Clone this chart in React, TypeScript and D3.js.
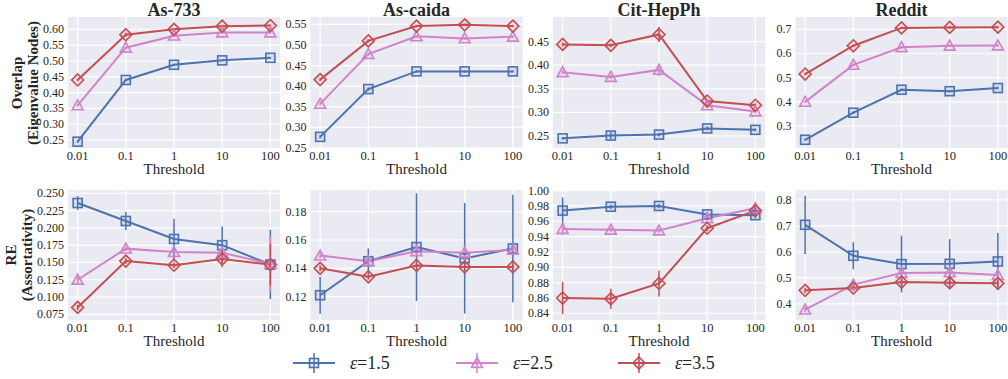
import React from 'react';
import * as d3 from 'd3';

const thresholds = ['0.01', '0.1', '1', '10', '100'];
const datasets = ['As-733', 'As-caida', 'Cit-HepPh', 'Reddit'];
const epsilons = ['1.5', '2.5', '3.5'];

// rows: eps=1.5, eps=2.5, eps=3.5
const overlapAs733 = [
  [0.245, 0.44, 0.488, 0.502, 0.51],
  [0.36, 0.542, 0.58, 0.59, 0.59],
  [0.44, 0.583, 0.6, 0.61, 0.612],
];
const overlapAsCaida = [
  [0.277, 0.393, 0.436, 0.436, 0.436],
  [0.357, 0.478, 0.521, 0.516, 0.52],
  [0.416, 0.51, 0.546, 0.549, 0.546],
];
const overlapCitHepPh = [
  [0.245, 0.251, 0.253, 0.266, 0.263],
  [0.385, 0.375, 0.39, 0.315, 0.302],
  [0.444, 0.442, 0.465, 0.324, 0.315],
];
const overlapReddit = [
  [0.243, 0.355, 0.45, 0.444, 0.457],
  [0.4, 0.553, 0.626, 0.632, 0.633],
  [0.515, 0.632, 0.706, 0.708, 0.709],
];

const overlapErrAs733 = [
  [0.004, 0.004, 0.003, 0.003, 0.003],
  [0.004, 0.004, 0.003, 0.003, 0.003],
  [0.004, 0.006, 0.003, 0.003, 0.003],
];
const overlapErrAsCaida = [
  [0.004, 0.004, 0.003, 0.003, 0.003],
  [0.004, 0.004, 0.003, 0.003, 0.003],
  [0.004, 0.004, 0.003, 0.003, 0.003],
];
const overlapErrCitHepPh = [
  [0.003, 0.008, 0.004, 0.004, 0.003],
  [0.004, 0.004, 0.013, 0.004, 0.004],
  [0.004, 0.004, 0.016, 0.004, 0.004],
];
const overlapErrReddit = [
  [0.005, 0.005, 0.005, 0.005, 0.005],
  [0.005, 0.005, 0.005, 0.005, 0.005],
  [0.005, 0.005, 0.005, 0.005, 0.005],
];

const reAs733 = [
  [0.236, 0.21, 0.184, 0.175, 0.147],
  [0.125, 0.17, 0.165, 0.164, 0.148],
  [0.085, 0.152, 0.146, 0.155, 0.147],
];
const reAsCaida = [
  [0.121, 0.145, 0.155, 0.147, 0.154],
  [0.149, 0.145, 0.152, 0.151, 0.153],
  [0.14, 0.134, 0.142, 0.141, 0.141],
];
const reCitHepPh = [
  [0.974, 0.979, 0.98, 0.969, 0.968],
  [0.95, 0.949, 0.948, 0.964, 0.977],
  [0.86, 0.859, 0.879, 0.951, 0.974],
];
const reReddit = [
  [0.704, 0.585, 0.553, 0.554, 0.563],
  [0.378, 0.474, 0.519, 0.521, 0.511],
  [0.452, 0.461, 0.484, 0.481, 0.479],
];

const reErrAs733 = [
  [0.01, 0.013, 0.029, 0.027, 0.05],
  [0.005, 0.003, 0.003, 0.01, 0.04],
  [0.004, 0.004, 0.004, 0.012, 0.03],
];
const reErrAsCaida = [
  [0.013, 0.009, 0.038, 0.039, 0.038],
  [0.002, 0.002, 0.003, 0.005, 0.003],
  [0.002, 0.002, 0.002, 0.002, 0.002],
];
const reErrCitHepPh = [
  [0.017, 0.003, 0.003, 0.003, 0.004],
  [0.008, 0.003, 0.003, 0.003, 0.006],
  [0.021, 0.013, 0.017, 0.004, 0.005],
];
const reErrReddit = [
  [0.112, 0.052, 0.109, 0.095, 0.11],
  [0.01, 0.01, 0.01, 0.01, 0.01],
  [0.01, 0.01, 0.01, 0.01, 0.01],
];

const overlapTicks = [
  [0.25, 0.3, 0.35, 0.4, 0.45, 0.5, 0.55, 0.6],
  [0.25, 0.3, 0.35, 0.4, 0.45, 0.5, 0.55],
  [0.25, 0.3, 0.35, 0.4, 0.45],
  [0.3, 0.4, 0.5, 0.6, 0.7],
];
const reTicks = [
  [0.075, 0.1, 0.125, 0.15, 0.175, 0.2, 0.225, 0.25],
  [0.12, 0.14, 0.16, 0.18],
  [0.84, 0.86, 0.88, 0.9, 0.92, 0.94, 0.96, 0.98, 1.0],
  [0.4, 0.5, 0.6, 0.7, 0.8],
];
const overlapDomains = [
  [0.225, 0.639],
  [0.25, 0.568],
  [0.2246, 0.502],
  [0.209, 0.751],
];
const reDomains = [
  [0.0668, 0.2548],
  [0.1035, 0.1953],
  [0.8314, 1.0008],
  [0.338, 0.838],
];
const overlapDecimals = [2, 2, 2, 1];
const reDecimals = [3, 2, 2, 1];

const overlapRows = [overlapAs733, overlapAsCaida, overlapCitHepPh, overlapReddit];
const overlapErrRows = [overlapErrAs733, overlapErrAsCaida, overlapErrCitHepPh, overlapErrReddit];
const reRows = [reAs733, reAsCaida, reCitHepPh, reReddit];
const reErrRows = [reErrAs733, reErrAsCaida, reErrCitHepPh, reErrReddit];

const colors = ['#4C72B0', '#D183C9', '#C44E52'];
const markers = ['square', 'triangle', 'diamond'];
const serif = "'Liberation Serif', 'Times New Roman', 'DejaVu Serif', serif";

const W = 1008;
const H = 379;
const panelLefts = [68, 310.5, 553, 795.5];
const panelW = 212;
const rows = [
  { top: 17, bottom: 148 },
  { top: 190, bottom: 320 },
];

function Marker({ kind, x, y, color }: { kind: string; x: number; y: number; color: string }) {
  const common = { fill: color, fillOpacity: 0.12, stroke: color, strokeWidth: 1.6 };
  if (kind === 'square') {
    return <rect x={x - 4.5} y={y - 4.5} width={9} height={9} {...common} />;
  }
  if (kind === 'triangle') {
    const s = 5.5;
    return <path d={`M${x},${y - s}L${x + s},${y + s * 0.8}L${x - s},${y + s * 0.8}Z`} {...common} />;
  }
  const s = 6;
  return <path d={`M${x},${y - s}L${x + s},${y}L${x},${y + s}L${x - s},${y}Z`} {...common} />;
}

function Panel({
  left, top, bottom, domain, ticks, decimals, values, errors, title,
}: {
  left: number; top: number; bottom: number; domain: number[]; ticks: number[]; decimals: number;
  values: number[][]; errors: number[][]; title?: string;
}) {
  const x = d3.scaleLinear().domain([-0.2, 4.2]).range([left, left + panelW]);
  const y = d3.scaleLinear().domain(domain).range([bottom, top]);
  const line = d3.line<number>().x((_, i) => x(i)).y((d) => y(d));
  const fmt = d3.format(`.${decimals}f`);
  return (
    <g>
      <rect x={left} y={top} width={panelW} height={bottom - top} fill="#EAEAF2" />
      {ticks.map((t) => (
        <line key={'h' + t} x1={left} x2={left + panelW} y1={y(t)} y2={y(t)} stroke="#fff" strokeWidth={1.2} />
      ))}
      {thresholds.map((_, i) => (
        <line key={'v' + i} x1={x(i)} x2={x(i)} y1={top} y2={bottom} stroke="#fff" strokeWidth={1.2} />
      ))}
      {ticks.map((t) => (
        <text key={'yt' + t} x={left - 4} y={y(t)} dy="0.33em" textAnchor="end" fontSize={12} fill="#262626" style={{ fontFamily: serif }}>
          {fmt(t)}
        </text>
      ))}
      {thresholds.map((t, i) => (
        <text key={'xt' + i} x={x(i)} y={bottom + 11.5} textAnchor="middle" fontSize={12.5} fill="#262626" style={{ fontFamily: serif }}>
          {t}
        </text>
      ))}
      <text x={left + panelW / 2} y={bottom + 26} textAnchor="middle" fontSize={15} fill="#262626" style={{ fontFamily: serif }}>
        Threshold
      </text>
      {title && (
        <text x={left + panelW / 2} y={15.5} textAnchor="middle" fontSize={18} fontWeight="bold" fill="#262626" style={{ fontFamily: serif }}>
          {title}
        </text>
      )}
      {values.map((vals, s) => (
        <g key={'s' + s}>
          <path d={line(vals) || ''} fill="none" stroke={colors[s]} strokeWidth={2} />
          {vals.map((v, i) => (
            <line key={'e' + i} x1={x(i)} x2={x(i)} y1={y(v - errors[s][i])} y2={y(v + errors[s][i])} stroke={colors[s]} strokeWidth={1.5} />
          ))}
        </g>
      ))}
      {values.map((vals, s) => (
        <g key={'m' + s}>
          {vals.map((v, i) => (
            <Marker key={i} kind={markers[s]} x={x(i)} y={y(v)} color={colors[s]} />
          ))}
        </g>
      ))}
    </g>
  );
}

export default function App() {
  const legendXs = [293, 456, 618];
  const legendY = 363;
  return (
    <svg width={W} height={H} style={{ position: 'absolute', left: 0, top: 0, background: '#fff' }}>
      {datasets.map((name, d) => (
        <Panel
          key={'top' + d}
          left={panelLefts[d]}
          top={rows[0].top}
          bottom={rows[0].bottom}
          domain={overlapDomains[d]}
          ticks={overlapTicks[d]}
          decimals={overlapDecimals[d]}
          values={overlapRows[d]}
          errors={overlapErrRows[d]}
          title={name}
        />
      ))}
      {datasets.map((name, d) => (
        <Panel
          key={'bot' + d}
          left={panelLefts[d]}
          top={rows[1].top}
          bottom={rows[1].bottom}
          domain={reDomains[d]}
          ticks={reTicks[d]}
          decimals={reDecimals[d]}
          values={reRows[d]}
          errors={reErrRows[d]}
        />
      ))}
      {/* y axis labels */}
      <g style={{ fontFamily: serif }} fontWeight="bold" fontSize={15} fill="#262626" textAnchor="middle">
        <text transform={`translate(22,83) rotate(-90)`}>Overlap</text>
        <text transform={`translate(38,83) rotate(-90)`}>(Eigenvalue Nodes)</text>
        <text transform={`translate(16,255) rotate(-90)`}>RE</text>
        <text transform={`translate(32,255) rotate(-90)`}>(Assortativity)</text>
      </g>
      {/* legend */}
      {epsilons.map((e, s) => (
        <g key={'lg' + s}>
          <line x1={legendXs[s]} x2={legendXs[s] + 42} y1={legendY} y2={legendY} stroke={colors[s]} strokeWidth={2} />
          <line x1={legendXs[s] + 21} x2={legendXs[s] + 21} y1={legendY - 10} y2={legendY + 10} stroke={colors[s]} strokeWidth={1.5} />
          <Marker kind={markers[s]} x={legendXs[s] + 21} y={legendY} color={colors[s]} />
          <text x={legendXs[s] + 57} y={legendY + 6} fontSize={18} fill="#262626" style={{ fontFamily: serif }}>
            <tspan fontStyle="italic">ε</tspan>={e}
          </text>
        </g>
      ))}
    </svg>
  );
}
